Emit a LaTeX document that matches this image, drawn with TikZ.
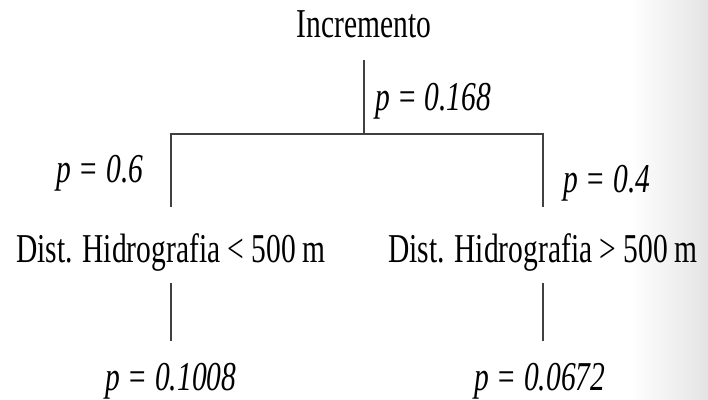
\documentclass[tikz,border=0pt]{standalone}
\usepackage{fontspec}
\setmainfont{Liberation Serif}[FakeStretch=0.72]
\usetikzlibrary{positioning}
\definecolor{edgegray}{RGB}{228,228,228}

\begin{document}
\begin{tikzpicture}[
  x=1pt, y=-1pt,
  lbl/.style={inner sep=0pt, anchor=base, font=\fontsize{41}{44}\selectfont},
  prob/.style={lbl, font=\fontsize{41}{44}\selectfont\itshape},
  branch/.style={draw=black!75, line width=1.2pt},
]
  \useasboundingbox (0,0) rectangle (708,399);
  \shade[left color=white, right color=edgegray] (630,0) rectangle (708,399);

  \node[lbl] (incr) at (364,37) {Incremento};
  \coordinate (split) at (364,134);

  \node[lbl] (distlo) at (171,262) {Dist. Hidrografia < 500\,m};
  \node[lbl] (disthi) at (543,262) {Dist. Hidrografia > 500\,m};

  \node[prob] (plo) at (171,390) {p = 0.1008};
  \node[prob] (phi) at (540,390) {p = 0.0672};

  \node[prob, anchor=base west] (pincr) at (375,110) {p = 0.168};
  \node[prob] (pleft) at (100,182) {p = 0.6};
  \node[prob] (pright) at (607,192) {p = 0.4};

  \draw[branch] ([yshift=-22pt]incr.south) -- (split);
  \draw[branch] ([yshift=26pt]distlo.north) |- (split) -| ([yshift=26pt]disthi.north);
  \draw[branch] ([yshift=-12pt]distlo.south) -- ([yshift=22pt]plo.north);
  \draw[branch] ([yshift=-12pt]disthi.south) -- ([yshift=22pt]disthi.south |- phi.north);
\end{tikzpicture}
\end{document}
